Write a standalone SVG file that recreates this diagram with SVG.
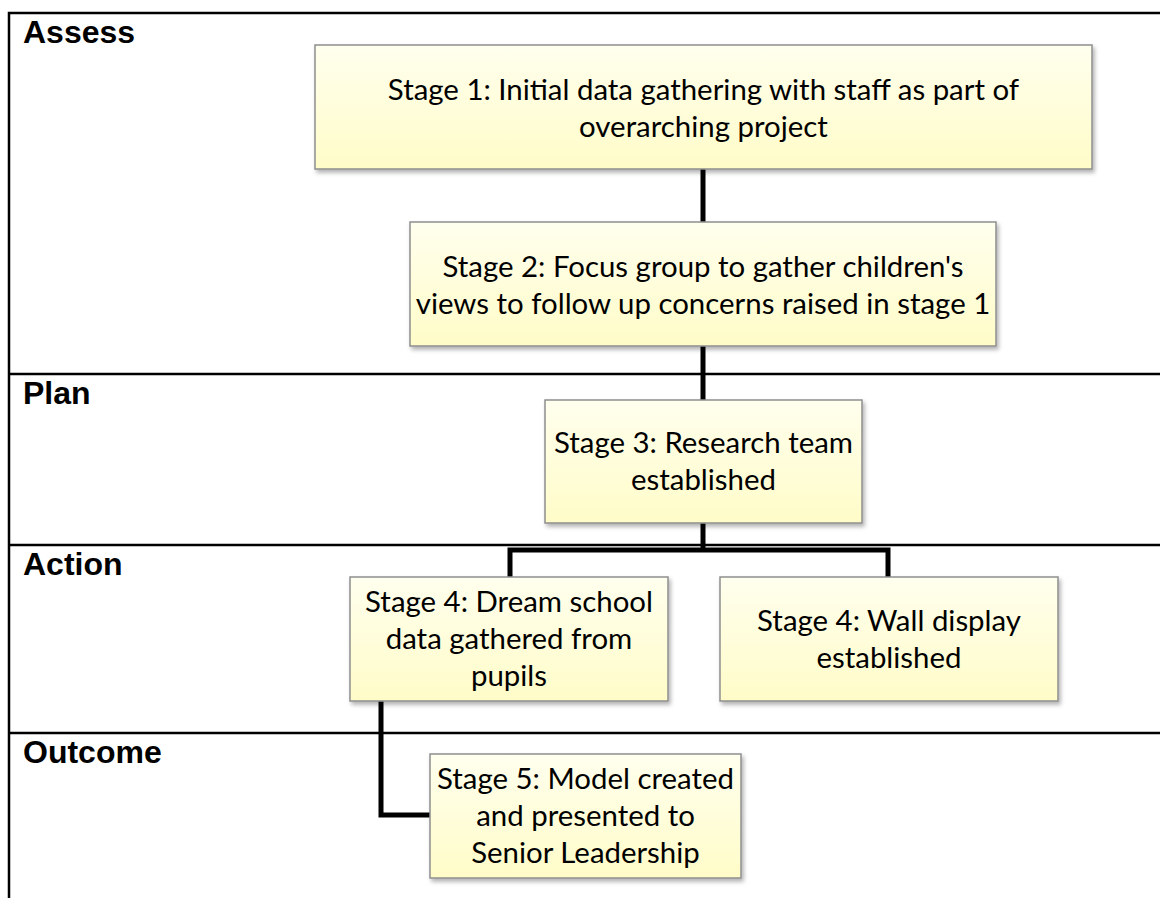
<svg xmlns="http://www.w3.org/2000/svg" width="1160" height="898" viewBox="0 0 1160 898">
<style>
.frame{stroke:#000;stroke-width:2.5;fill:none}
.lbl{font-family:"Liberation Sans",Arial,sans-serif;font-weight:bold;font-size:32px;fill:#000}
.box{fill:url(#yg);stroke:#8e8e8e;stroke-width:1.5;filter:url(#sh)}
.txt{font-family:Lato,"Open Sans",sans-serif;font-size:29.4px;fill:#000;text-anchor:middle}
.con{stroke:#000;stroke-width:5;fill:none;stroke-linejoin:miter}
</style>
<defs>
<linearGradient id="yg" x1="0" y1="0" x2="0" y2="1">
<stop offset="0" stop-color="#FFFFEE"/>
<stop offset="1" stop-color="#FFFCC8"/>
</linearGradient>
<filter id="sh" x="-10%" y="-10%" width="120%" height="130%">
<feDropShadow dx="2" dy="3" stdDeviation="2" flood-color="#000" flood-opacity="0.3"/>
</filter>
</defs>
<rect width="1160" height="898" fill="#fff"/>
<g id="frame">
<path class="frame" d="M9 898 V13 H1160"/>
<path class="frame" d="M9 374 H1160 M9 545 H1160 M9 733 H1160"/>
</g>
<g id="labels">
<text class="lbl" x="23" y="43">Assess</text>
<text class="lbl" x="23" y="404">Plan</text>
<text class="lbl" x="23" y="575">Action</text>
<text class="lbl" x="23" y="763">Outcome</text>
</g>
<g id="connectors">
<path class="con" d="M703 168 V222"/>
<path class="con" d="M703 346 V400"/>
<path class="con" d="M703 523 V550"/>
<path class="con" d="M510 577 V550 H888 V577"/>
<path class="con" d="M381 701 V815 H430"/>
</g>
<g id="stage1">
<rect class="box" x="315" y="45" width="777" height="124"/>
<text class="txt" x="703.5" y="100">Stage 1: Initial data gathering with staff as part of</text>
<text class="txt" x="703.5" y="137">overarching project</text>
</g>
<g id="stage2">
<rect class="box" x="410" y="222" width="586" height="124"/>
<text class="txt" x="703" y="277">Stage 2: Focus group to gather children's</text>
<text class="txt" x="703" y="314">views to follow up concerns raised in stage 1</text>
</g>
<g id="stage3">
<rect class="box" x="545" y="400" width="317" height="123"/>
<text class="txt" x="703.5" y="453">Stage 3: Research team</text>
<text class="txt" x="703.5" y="490">established</text>
</g>
<g id="stage4a">
<rect class="box" x="350" y="577" width="318" height="124"/>
<text class="txt" x="509" y="612">Stage 4: Dream school</text>
<text class="txt" x="509" y="649">data gathered from</text>
<text class="txt" x="509" y="686">pupils</text>
</g>
<g id="stage4b">
<rect class="box" x="720" y="577" width="338" height="124"/>
<text class="txt" x="889" y="631">Stage 4: Wall display</text>
<text class="txt" x="889" y="668">established</text>
</g>
<g id="stage5">
<rect class="box" x="430" y="754" width="311" height="124"/>
<text class="txt" x="585.5" y="789">Stage 5: Model created</text>
<text class="txt" x="585.5" y="826">and presented to</text>
<text class="txt" x="585.5" y="863">Senior Leadership</text>
</g>
</svg>
